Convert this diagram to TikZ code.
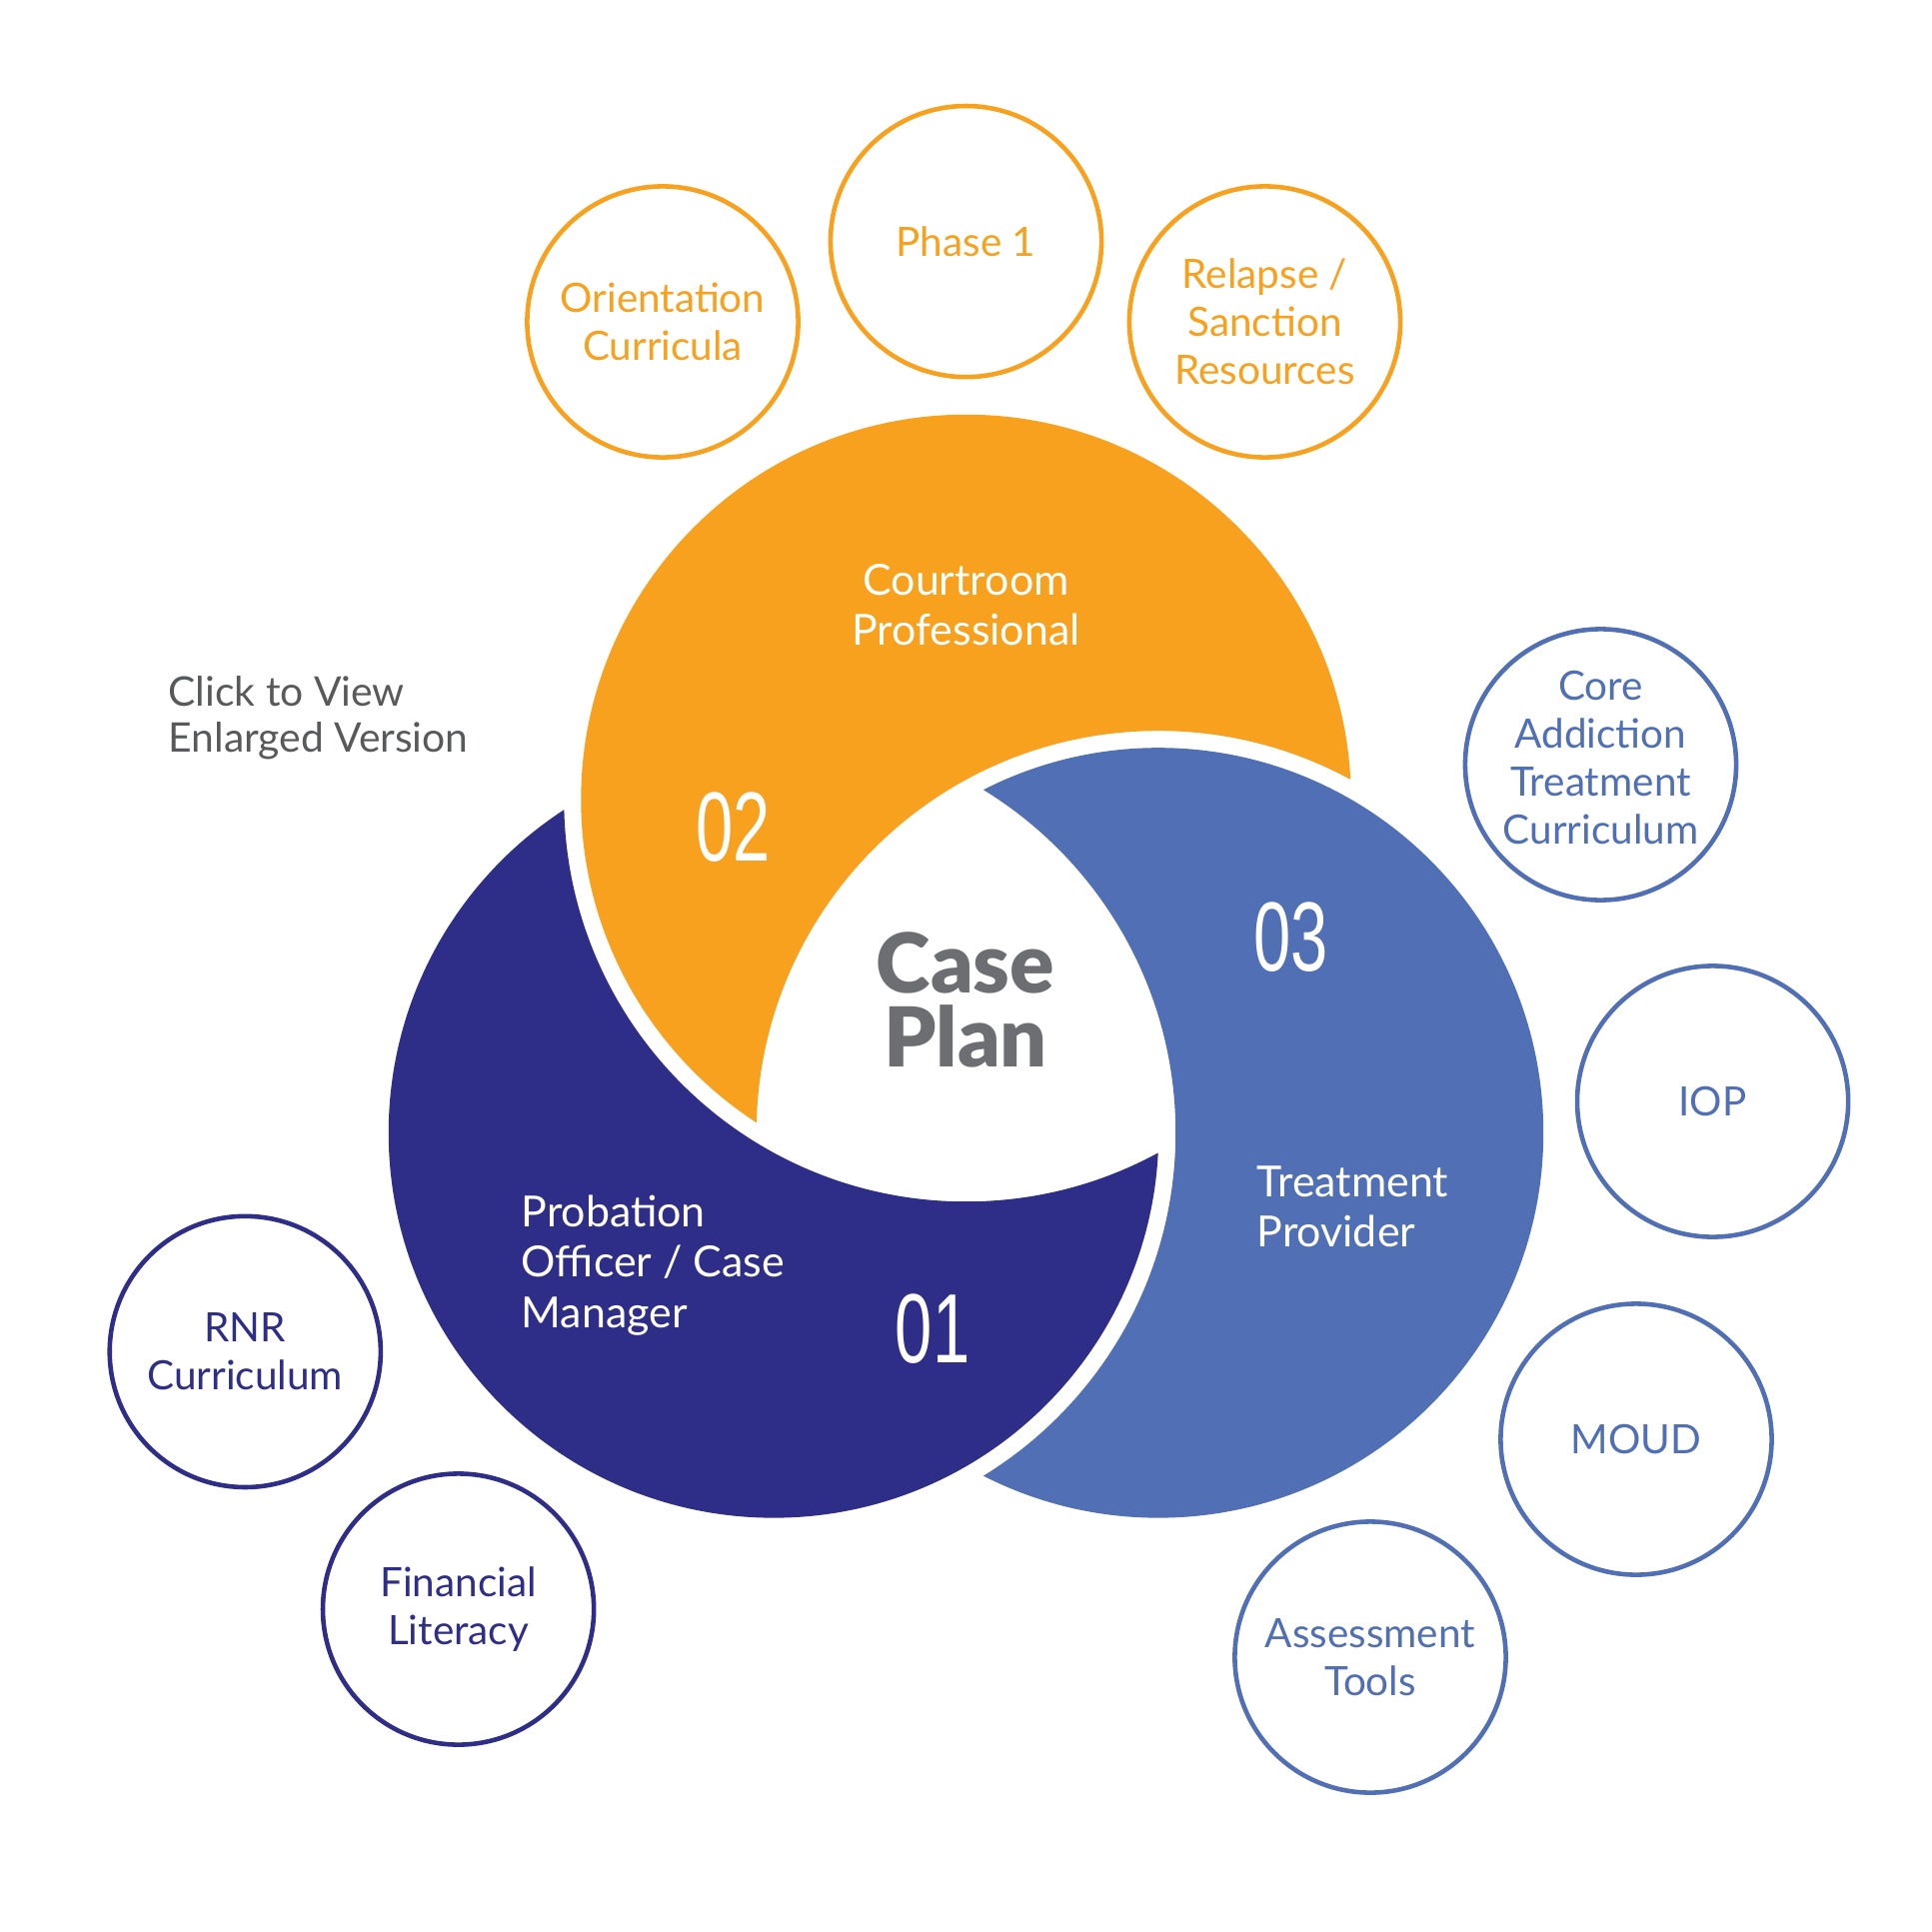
\documentclass[tikz,border=0pt]{standalone}
\usepackage{fontspec}
\setmainfont{Lato}
\newfontfamily\numfont{Liberation Sans}[FakeStretch=0.68]
\newfontfamily\planfont{Lato Black}
\definecolor{courtorange}{HTML}{F8A11E}
\definecolor{officernavy}{HTML}{2E2D87}
\definecolor{treatblue}{HTML}{506FB5}
\definecolor{planGray}{HTML}{6D6E71}
\definecolor{noteGray}{HTML}{58595B}

\begin{document}
\begin{tikzpicture}[x=0.01cm, y=-0.01cm,
    resource/.style={circle, draw=#1, text=#1, line width=1.3pt, minimum size=2.71cm, inner sep=0pt, align=center, font=\fontsize{11.5}{13.6}\selectfont},
    rolelabel/.style={text=white, inner sep=0pt, font=\fontsize{12.2}{14.3}\selectfont},
    stepnum/.style={text=white, inner sep=0pt, font=\numfont\fontsize{28}{28}\selectfont}]
    \fill[white] (0,0) rectangle (1933,1933);
    \useasboundingbox (0,0) rectangle (1933,1933);
    % centres of the three big circles
    \coordinate (O) at (966.5,800);
    \coordinate (N) at (774,1133.4);
    \coordinate (B) at (1159,1133.4);
    % each disc loses the part under the next one (plus a white gap)
    \begin{scope}[even odd rule]
        \clip (B) circle (4.02cm) (0,0) rectangle (1933,1933);
        \fill[courtorange] (O) circle (3.85cm);
    \end{scope}
    \begin{scope}[even odd rule]
        \clip (O) circle (4.02cm) (0,0) rectangle (1933,1933);
        \fill[officernavy] (N) circle (3.85cm);
    \end{scope}
    \begin{scope}[even odd rule]
        \clip (N) circle (4.02cm) (0,0) rectangle (1933,1933);
        \fill[treatblue] (B) circle (3.85cm);
    \end{scope}
    \node[rolelabel, align=center] (court) at (966.5,605) {Courtroom\\Professional};
    \node[rolelabel, align=left, anchor=west] (officer) at (521,1266) {Probation\\Officer / Case\\Manager};
    \node[rolelabel, align=left, anchor=west] (provider) at (1257,1207) {Treatment\\Provider};
    \node[stepnum] (n01) at (933,1329.5) {01};
    \node[stepnum] (n02) at (733.5,828) {02};
    \node[stepnum] (n03) at (1291.5,938) {03};
    \node[text=planGray, align=center, inner sep=0pt, font=\planfont\fontsize{23.5}{21}\selectfont] (plan) at (966,1000) {Case\\Plan};
    \node[text=noteGray, align=left, anchor=west, inner sep=0pt, font=\fontsize{11.6}{13.1}\selectfont] (click) at (168,718) {Click to View\\Enlarged Version};
    % resource circles
    \node[resource=courtorange] (orient) at (663,322) {Orientation\\Curricula};
    \node[resource=courtorange] (phase) at (966.5,241.6) {Phase 1};
    \node[resource=courtorange] (relapse) at (1265.5,322) {Relapse /\\Sanction\\Resources};
    \node[resource=treatblue, text depth=4pt] (core) at (1601.5,765) {Core\\Addiction\\Treatment\\Curriculum};
    \node[resource=treatblue] (iop) at (1713.6,1102) {IOP};
    \node[resource=treatblue] (moud) at (1637,1440) {MOUD};
    \node[resource=treatblue] (assess) at (1371,1658) {Assessment\\Tools};
    \node[resource=officernavy] (rnr) at (245.3,1352.4) {RNR\\Curriculum};
    \node[resource=officernavy] (finlit) at (458.6,1610) {Financial\\Literacy};
\end{tikzpicture}
\end{document}
